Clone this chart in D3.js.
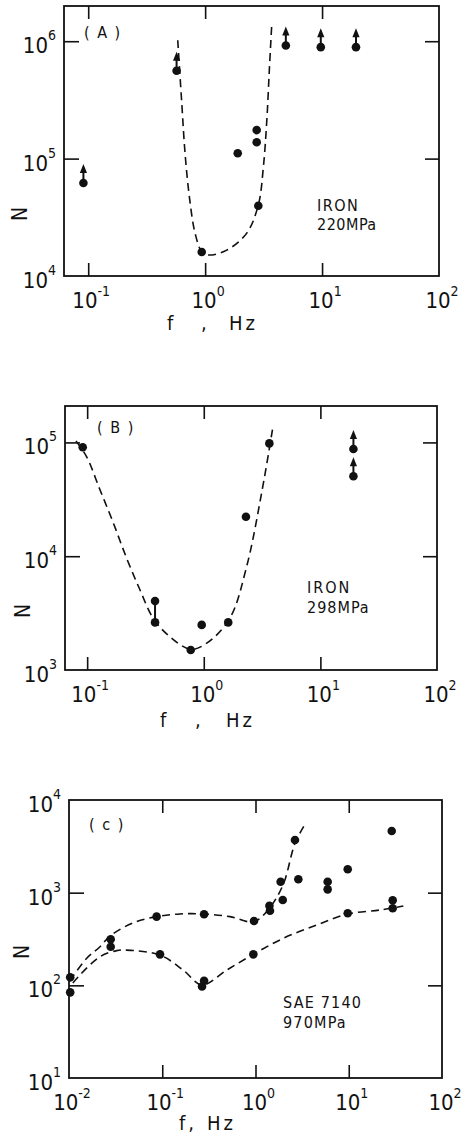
<!DOCTYPE html>
<html>
<head>
<meta charset="utf-8">
<script src="https://cdn.jsdelivr.net/npm/d3@7"></script>
<style>
body { margin: 0; background: #fff; }
text { font-family: "DejaVu Sans Condensed", "Liberation Sans Narrow", "DejaVu Sans", sans-serif; fill: #111; }
</style>
</head>
<body>
<script>
var width = 470;
var height = 1137;

// (A) iron, 220 MPa
var fA = [0.091, 0.57, 0.935, 1.9, 2.76, 2.76, 2.85, 4.9, 9.75, 19.5];
var nA = [62000, 560000, 16000, 111000, 175000, 138000, 39700, 920000, 890000, 890000];
var upA = [1, 1, 0, 0, 0, 0, 0, 1, 1, 1];
var curveFA = [0.583, 0.631, 0.673, 0.733, 0.82, 0.935, 1.065, 1.53, 2.27, 2.85, 3.15, 3.37, 3.54, 3.71];
var curveNA = [1.02e6, 2.98e5, 1.12e5, 4.73e4, 2.32e4, 1.61e4, 1.51e4, 1.66e4, 2.32e4, 4.03e4, 8.53e4, 2.13e5, 5.69e5, 1.37e6];

// (B) iron, 298 MPa
var fB = [0.0916, 0.382, 0.382, 0.773, 0.96, 1.62, 2.3, 3.65, 19.2, 19.2];
var nB = [90600, 4040, 2620, 1500, 2490, 2620, 22200, 98000, 87500, 50400];
var upB = [0, 0, 0, 0, 0, 0, 0, 0, 1, 1];
var barFB = [0.382], barLoB = [2620], barHiB = [4040];
var curveFB = [0.0802, 0.099, 0.129, 0.168, 0.218, 0.284, 0.369, 0.513, 0.773, 1.06, 1.67, 2.33, 3.13, 3.94];
var curveNB = [103000, 74800, 38200, 19500, 9600, 5050, 2840, 1960, 1520, 1720, 2840, 8090, 35700, 142000];

// (C) SAE 7140, 970 MPa
var fC = [0.0103, 0.0103, 0.028, 0.028, 0.087, 0.0946, 0.281, 0.281, 0.267, 0.964, 0.948, 1.41, 1.43, 1.86, 1.96, 2.65, 2.88, 5.94, 5.94, 9.75, 9.75, 28.9, 29.6, 29.6];
var nC = [122, 84, 314, 261, 551, 216, 584, 112, 97, 494, 216, 723, 638, 1312, 834, 3700, 1394, 1312, 1086, 1787, 599, 4624, 828, 678];
var curveFC1 = [0.0102, 0.0155, 0.0215, 0.0275, 0.049, 0.087, 0.155, 0.28, 0.533, 0.964, 1.43, 1.99, 2.65, 3.31];
var curveNC1 = [112, 196, 261, 340, 474, 551, 589, 589, 551, 486, 695, 1239, 3412, 5236];
var curveFC2 = [0.011, 0.0126, 0.0215, 0.0325, 0.0416, 0.0946, 0.168, 0.267, 0.491, 0.948, 1.99, 4.53, 9.75, 21.6, 38.5];
var curveNC2 = [106, 124, 204, 237, 240, 212, 146, 101, 146, 216, 322, 448, 589, 650, 718];

// tick labels (powers of ten)
var xExpAB = ["-1", "0", "1", "2"];
var yExpA = ["4", "5", "6"];
var yExpB = ["3", "4", "5"];
var xExpC = ["-2", "-1", "0", "1", "2"];
var yExpC = ["1", "2", "3", "4"];

var svg = d3.select("body").append("svg")
    .attr("width", width)
    .attr("height", height);

function zip(a, b) { return a.map(function(v, i) { return [v, b[i]]; }); }

function drawPanel(p) {
  var x = d3.scaleLog().domain(p.xDom).range([p.left, p.right]);
  var y = d3.scaleLog().domain(p.yDom).range([p.bottom, p.top]);
  var g = svg.append("g");

  var xt = p.xTicks, yt = p.yTicks;
  g.append("g").attr("transform", "translate(0," + p.bottom + ")")
    .call(d3.axisBottom(x).tickValues(xt).tickSizeInner(-13).tickSizeOuter(0).tickFormat(""));
  g.append("g").attr("transform", "translate(0," + p.top + ")")
    .call(d3.axisTop(x).tickValues(xt).tickSizeInner(-13).tickSizeOuter(0).tickFormat(""));
  g.append("g").attr("transform", "translate(" + p.left + ",0)")
    .call(d3.axisLeft(y).tickValues(yt).tickSizeInner(-15).tickSizeOuter(0).tickFormat(""));
  g.append("g").attr("transform", "translate(" + p.right + ",0)")
    .call(d3.axisRight(y).tickValues(yt).tickSizeInner(-14).tickSizeOuter(0).tickFormat(""));
  g.selectAll(".domain").remove();
  g.selectAll(".tick line").attr("stroke", "#111").attr("stroke-width", 1.6);

  g.append("rect")
    .attr("x", p.left).attr("y", p.top)
    .attr("width", p.right - p.left).attr("height", p.bottom - p.top)
    .attr("fill", "none").attr("stroke", "#111").attr("stroke-width", 1.8);

  // x tick labels
  p.xExp.forEach(function(e) {
    var t = g.append("text")
      .attr("x", x(Math.pow(10, +e)) + 3)
      .attr("y", p.bottom + 32)
      .attr("text-anchor", "middle")
      .style("font-size", "22px");
    t.append("tspan").text("10");
    t.append("tspan").attr("dy", -12).style("font-size", "14px").text(e);
  });
  // y tick labels
  p.yExp.forEach(function(e) {
    var t = g.append("text")
      .attr("x", p.left - 8)
      .attr("y", y(Math.pow(10, +e)) + 12)
      .attr("text-anchor", "end")
      .style("font-size", "22px");
    t.append("tspan").text("10");
    t.append("tspan").attr("dy", -13).style("font-size", "14px").text(e);
  });

  // axis titles
  g.append("text")
    .attr("transform", "translate(" + p.nPos[0] + "," + p.nPos[1] + ") rotate(-90)")
    .attr("text-anchor", "middle")
    .style("font-size", "21px")
    .text("N");
  p.fTitle.forEach(function(d) {
    g.append("text").attr("x", d[1]).attr("y", p.fBase)
      .style("font-size", "20px").style("letter-spacing", "3px").text(d[0]);
  });

  // annotations
  p.notes.forEach(function(d) {
    g.append("text").attr("x", d[1]).attr("y", d[2])
      .style("font-size", d[3] + "px").style("letter-spacing", d[4] + "px")
      .attr("xml:space", "preserve")
      .text(d[0]);
  });

  // dashed fitted curves
  var line = d3.line()
    .x(function(d) { return x(d[0]); })
    .y(function(d) { return y(d[1]); })
    .curve(d3.curveCatmullRom.alpha(0.5));
  p.curves.forEach(function(c) {
    g.append("path")
      .attr("d", line(c))
      .attr("fill", "none")
      .attr("stroke", "#111")
      .attr("stroke-width", 1.6)
      .attr("stroke-dasharray", "8,5");
  });

  // scatter bars between paired results
  (p.bars || []).forEach(function(b) {
    g.append("line")
      .attr("x1", x(b[0])).attr("x2", x(b[0]))
      .attr("y1", y(b[1])).attr("y2", y(b[2]))
      .attr("stroke", "#111").attr("stroke-width", 2);
  });

  // run-out arrows
  var ups = p.pts.filter(function(d) { return d[2]; });
  g.selectAll(".stem").data(ups).enter().append("line")
    .attr("x1", function(d) { return x(d[0]); })
    .attr("x2", function(d) { return x(d[0]); })
    .attr("y1", function(d) { return y(d[1]); })
    .attr("y2", function(d) { return y(d[1]) - 12; })
    .attr("stroke", "#111").attr("stroke-width", 2);
  g.selectAll(".head").data(ups).enter().append("path")
    .attr("d", function(d) {
      var cx = x(d[0]), cy = y(d[1]);
      return "M" + (cx - 3.6) + "," + (cy - 10) + "L" + cx + "," + (cy - 19) + "L" + (cx + 3.6) + "," + (cy - 10) + "Z";
    })
    .attr("fill", "#111");

  g.selectAll(".dot").data(p.pts).enter().append("circle")
    .attr("cx", function(d) { return x(d[0]); })
    .attr("cy", function(d) { return y(d[1]); })
    .attr("r", 4.3)
    .attr("fill", "#111");
}

drawPanel({
  left: 64, right: 439, top: 6, bottom: 276,
  xDom: [Math.pow(10, -1.207), 100], yDom: [1e4, Math.pow(10, 6.3)],
  xTicks: [0.1, 1, 10], yTicks: [1e5, 1e6],
  xExp: xExpAB, yExp: yExpA,
  nPos: [27, 214], fBase: 330,
  fTitle: [["f", 167], [",", 201], ["Hz", 229]],
  notes: [["( A )", 84, 38, 16, 1.5], ["IRON", 317, 211, 16, 1.5], ["220MPa", 317, 230, 16, 0.5]],
  curves: [zip(curveFA, curveNA)],
  pts: fA.map(function(f, i) { return [f, nA[i], upA[i]]; })
});

drawPanel({
  left: 65, right: 437, top: 406, bottom: 670,
  xDom: [Math.pow(10, -1.19), 100], yDom: [1e3, Math.pow(10, 5.32)],
  xTicks: [0.1, 1, 10], yTicks: [1e4, 1e5],
  xExp: xExpAB, yExp: yExpB,
  nPos: [30, 611], fBase: 727,
  fTitle: [["f", 160], [",", 195], ["Hz", 226]],
  notes: [["( B )", 97, 433, 16, 1.5], ["IRON", 307, 593, 16, 2], ["298MPa", 307, 613, 16, 1]],
  curves: [zip(curveFB, curveNB)],
  bars: barFB.map(function(f, i) { return [f, barLoB[i], barHiB[i]]; }),
  pts: fB.map(function(f, i) { return [f, nB[i], upB[i]]; })
});

drawPanel({
  left: 69, right: 442, top: 800, bottom: 1078,
  xDom: [1e-2, 100], yDom: [10, 1e4],
  xTicks: [0.1, 1, 10], yTicks: [100, 1000],
  xExp: xExpC, yExp: yExpC,
  nPos: [29, 952], fBase: 1130,
  fTitle: [["f,", 179], ["Hz", 207]],
  notes: [["( c )", 89, 830, 16, 1.5], ["SAE 7140", 283, 1008, 16, 1.2], ["970MPa", 283, 1028, 16, 1.2]],
  curves: [zip(curveFC1, curveNC1), zip(curveFC2, curveNC2)],
  pts: fC.map(function(f, i) { return [f, nC[i], 0]; })
});
</script>
</body>
</html>
